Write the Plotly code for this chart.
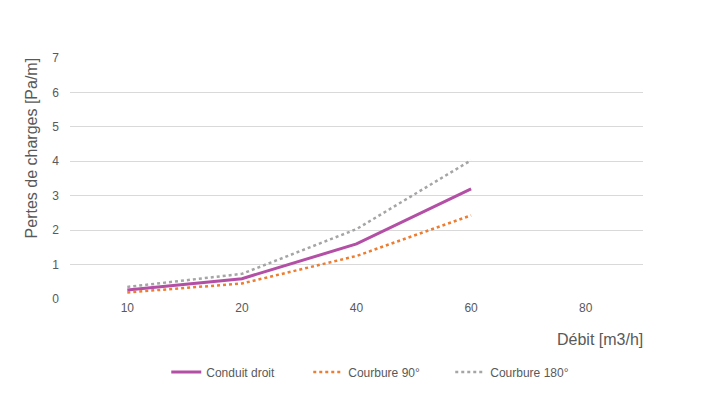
import plotly.graph_objects as go

categories = ["10", "20", "40", "60", "80"]
conduit_droit = [0.26, 0.59, 1.6, 3.2, None]
courbure_90 = [0.19, 0.45, 1.25, 2.43, None]
courbure_180 = [0.35, 0.73, 2.03, 4.03, None]
y_ticks = [0, 1, 2, 3, 4, 5, 6, 7]

fig = go.Figure()
fig.add_trace(go.Scatter(x=categories, y=conduit_droit, mode="lines", name="Conduit droit",
                         line=dict(color="#B44FA6", width=3)))
fig.add_trace(go.Scatter(x=categories, y=courbure_90, mode="lines", name="Courbure 90°",
                         line=dict(color="#ED7D31", width=2.5, dash="dot")))
fig.add_trace(go.Scatter(x=categories, y=courbure_180, mode="lines", name="Courbure 180°",
                         line=dict(color="#A5A5A5", width=2.5, dash="dot")))

fig.update_layout(
    width=716, height=408,
    margin=dict(l=70, r=73, t=58, b=109),
    paper_bgcolor="white", plot_bgcolor="white",
    font=dict(family="Liberation Sans, Arial", size=12, color="#595959"),
    showlegend=True,
    legend=dict(orientation="h", x=0.168, xanchor="left", y=-0.303, yanchor="middle",
                font=dict(size=12, color="#595959"),
                entrywidth=97, entrywidthmode="pixels",
                tracegroupgap=0),
    xaxis=dict(type="category", categoryorder="array", categoryarray=categories,
               range=[-0.5, 4.5], showgrid=False, zeroline=False, showline=False,
               ticks="", tickfont=dict(size=12, color="#595959")),
    yaxis=dict(range=[0, 7], tickvals=y_ticks, showgrid=True, gridcolor="#D9D9D9",
               gridwidth=1, zeroline=False, showline=False, ticks="",
               ticklabelstandoff=10, tickfont=dict(size=12, color="#595959")),
    annotations=[
        dict(text="Pertes de charges [Pa/m]", xref="paper", yref="paper",
             x=-0.068, y=0.625, xanchor="center", yanchor="middle", textangle=-90,
             showarrow=False, font=dict(size=16, color="#595959")),
        dict(text="Débit [m3/h]", xref="paper", yref="paper",
             x=0.925, y=-0.17, xanchor="center", yanchor="middle",
             showarrow=False, font=dict(size=16, color="#595959")),
    ],
)

fig.write_html("out.html")
